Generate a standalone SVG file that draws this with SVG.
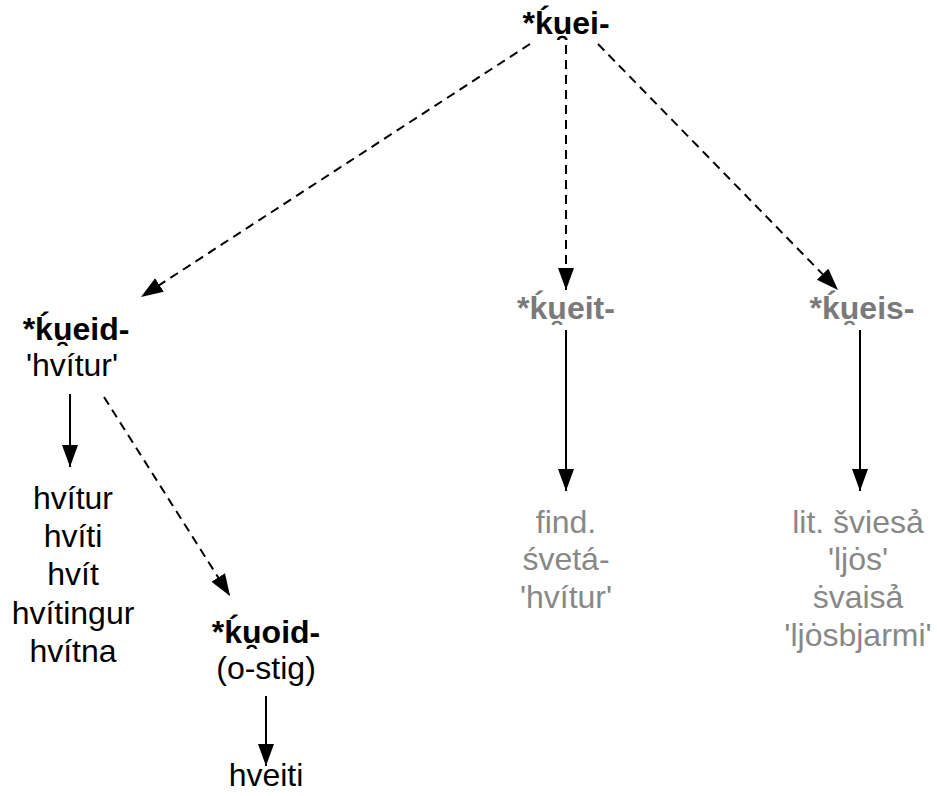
<svg xmlns="http://www.w3.org/2000/svg" width="937" height="796" viewBox="0 0 937 796">
<style>
text{font-family:"Liberation Sans",Arial,Helvetica,sans-serif;font-size:32px;text-anchor:middle;fill:#000}
.b{font-weight:bold}
.g{fill:#7a7a7a}
.gl{fill:#888888}
.d{stroke:#000;stroke-width:2;fill:none;stroke-dasharray:9,6}
.s{stroke:#000;stroke-width:2;fill:none}
</style>
<defs>
<marker id="ah" markerUnits="userSpaceOnUse" markerWidth="24" markerHeight="18" refX="22" refY="8" orient="auto">
<path d="M0,0 L22,8 L0,16 Z" fill="#000"/>
</marker>
</defs>
<rect width="937" height="796" fill="#fff"/>
<g id="connectors">
<line class="d" x1="530" y1="44" x2="141" y2="297" marker-end="url(#ah)"/>
<line class="d" x1="566" y1="45" x2="566" y2="290" marker-end="url(#ah)"/>
<line class="d" x1="598" y1="44" x2="838" y2="290" marker-end="url(#ah)"/>
<line class="s" x1="70" y1="394" x2="70" y2="467" marker-end="url(#ah)"/>
<line class="d" x1="104" y1="397" x2="230" y2="596" marker-end="url(#ah)"/>
<line class="s" x1="266" y1="696" x2="266" y2="766" marker-end="url(#ah)"/>
<line class="s" x1="566" y1="330" x2="566" y2="491" marker-end="url(#ah)"/>
<line class="s" x1="860" y1="330" x2="860" y2="491" marker-end="url(#ah)"/>
</g>
<g id="root"><text class="b" x="566" y="34">*ḱu̯ei-</text></g>
<g id="kueid">
<text class="b" x="76" y="340">*ḱu̯eid-</text>
<text x="72" y="376">'hvítur'</text>
</g>
<g id="icelandic">
<text x="73" y="509">hvítur</text>
<text x="73" y="547">hvíti</text>
<text x="73" y="585">hvít</text>
<text x="73" y="624">hvítingur</text>
<text x="73" y="662">hvítna</text>
</g>
<g id="kuoid">
<text class="b" x="266" y="643">*ḱu̯oid-</text>
<text x="266" y="679">(o-stig)</text>
</g>
<g id="hveiti"><text x="266" y="786">hveiti</text></g>
<g id="kueit"><text class="b g" x="566" y="319">*ḱu̯eit-</text></g>
<g id="sanskrit">
<text class="gl" x="566" y="533">find.</text>
<text class="gl" x="566" y="570">śvetá-</text>
<text class="gl" x="566" y="608">'hvítur'</text>
</g>
<g id="kueis"><text class="b g" x="862" y="319">*ḱu̯eis-</text></g>
<g id="lithuanian">
<text class="gl" x="858" y="533">lit. šviesả</text>
<text class="gl" x="858" y="570">'ljȯs'</text>
<text class="gl" x="858" y="608">ṡvaisả</text>
<text class="gl" x="858" y="646">'ljȯsbjarmi'</text>
</g>
</svg>
